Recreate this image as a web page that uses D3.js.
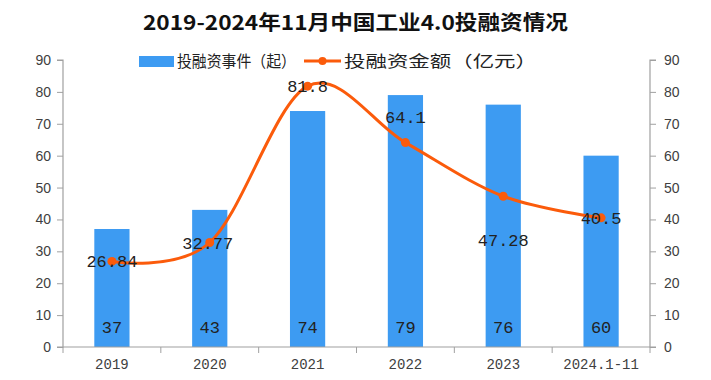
<!DOCTYPE html>
<html><head><meta charset="utf-8">
<script src="https://cdn.jsdelivr.net/npm/d3@7/dist/d3.min.js"></script>
<style>body{margin:0;background:#fff}svg{display:block}</style>
</head><body>
<svg id="c" width="711" height="380"></svg>
<script>
const categories = ["2019","2020","2021","2022","2023","2024.1-11"];
const events = [37,43,74,79,76,60];
const amounts = [26.84,32.77,81.8,64.1,47.28,40.5];
const amountLabels = ["26.84","32.77","81.8","64.1","47.28","40.5"];
const yTicks = [0,10,20,30,40,50,60,70,80,90];
const title = "2019-2024年11月中国工业4.0投融资情况";
const legendNames = ["投融资事件（起）","投融资金额（亿元）"];

const svg = d3.select("#c");
const m = {l:63, r:650, t:60, b:347};
const x = d3.scaleBand().domain(categories).range([m.l, m.r]).paddingInner(0.64).paddingOuter(0.32);
const xb = d3.scaleBand().domain(categories).range([m.l, m.r]);
const y = d3.scaleLinear().domain([0,90]).range([m.b, m.t]);
const y2 = d3.scaleLinear().domain([0,90]).range([m.b, m.t]);
const barColor = "#3d9bf2", lineColor = "#fb5b0b", axisColor = "#a0a0a0", tickText = "#404040";
const monoFont = "'Liberation Mono', 'DejaVu Sans Mono', monospace";
const sansFont = "'Liberation Sans', Arial, sans-serif";
const cjkFont = "'Noto Sans CJK SC', sans-serif";

svg.append("text").attr("x",143).attr("y",30)
  .attr("textLength",425).attr("lengthAdjust","spacingAndGlyphs")
  .attr("font-family",cjkFont).attr("font-weight","bold")
  .attr("font-size",20).attr("fill","#111").text(title);

// bars
svg.append("g").selectAll("rect").data(events).join("rect")
  .attr("x",(d,i)=>x(categories[i])).attr("width",x.bandwidth())
  .attr("y",d=>y(d)).attr("height",d=>y(0)-y(d)).attr("fill",barColor);

// axes
const gl = svg.append("g").attr("transform",`translate(${m.l},0)`)
  .call(d3.axisLeft(y).tickValues(yTicks).tickSize(6).tickPadding(6));
const gr = svg.append("g").attr("transform",`translate(${m.r},0)`)
  .call(d3.axisRight(y2).tickValues(yTicks).tickSize(6).tickPadding(8));
const gx = svg.append("g").attr("transform",`translate(0,${m.b})`)
  .call(d3.axisBottom(xb).tickSize(0).tickPadding(12));
svg.append("g").selectAll("line").data(d3.range(categories.length+1)).join("line")
  .attr("x1",i=>m.l+i*xb.step()).attr("x2",i=>m.l+i*xb.step())
  .attr("y1",m.b).attr("y2",m.b+6).attr("stroke",axisColor);
[gl,gr,gx].forEach(g=>{
  g.selectAll("path.domain").attr("stroke",axisColor).attr("stroke-width",1.2);
  g.selectAll(".tick line").attr("stroke",axisColor);
  g.selectAll(".tick text").attr("fill",tickText).attr("font-size",14).attr("font-family",sansFont);
});
gl.select("path.domain").attr("d",`M-6,${m.t}H0V${m.b}H-6`);
gr.select("path.domain").attr("d",`M6,${m.t}H0V${m.b}H6`);
gx.select("path.domain").attr("d",`M${m.l},0H${m.r}`);
gx.selectAll(".tick text").attr("font-family",monoFont).attr("font-size",14);

// bar labels
svg.append("g").selectAll("text").data(events).join("text")
  .attr("x",(d,i)=>xb(categories[i])+xb.bandwidth()/2).attr("y",y(0)-14)
  .attr("text-anchor","middle").attr("font-family",monoFont).attr("font-size",17)
  .attr("fill","#222").text(d=>d);

// line
const px = (d,i)=>xb(categories[i])+xb.bandwidth()/2;
svg.append("path").datum(amounts)
  .attr("d",d3.line().x(px).y(d=>y2(d)).curve(d3.curveCardinal))
  .attr("fill","none").attr("stroke",lineColor).attr("stroke-width",3);
svg.append("g").selectAll("circle").data(amounts).join("circle")
  .attr("cx",px).attr("cy",d=>y2(d)).attr("r",4.5).attr("fill",lineColor);

// line labels
const dy = [6,6,6,-20,50,6];
const dx = [0,-2,0,0,0,0];
svg.append("g").selectAll("text").data(amounts).join("text")
  .attr("x",(d,i)=>px(d,i)+dx[i]).attr("y",(d,i)=>y2(d)+dy[i])
  .attr("text-anchor","middle").attr("font-family",monoFont).attr("font-size",17)
  .attr("fill","#222").text((d,i)=>amountLabels[i]);

// legend
const lg = svg.append("g").attr("font-family",cjkFont).attr("font-size",16).attr("fill","#222");
lg.append("rect").attr("x",139).attr("y",56).attr("width",35).attr("height",11).attr("fill",barColor);
lg.append("text").attr("x",177).attr("y",67).attr("textLength",119).attr("lengthAdjust","spacingAndGlyphs").text(legendNames[0]);
lg.append("line").attr("x1",304).attr("x2",341).attr("y1",61).attr("y2",61).attr("stroke",lineColor).attr("stroke-width",3);
lg.append("circle").attr("cx",322.5).attr("cy",61).attr("r",4).attr("fill",lineColor);
lg.append("text").attr("x",344).attr("y",67).attr("textLength",193).attr("lengthAdjust","spacingAndGlyphs").text(legendNames[1]);
</script>
</body></html>
